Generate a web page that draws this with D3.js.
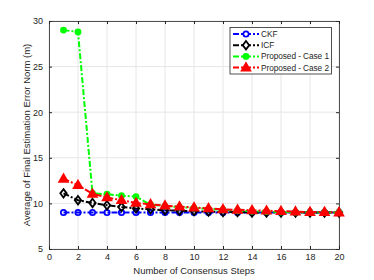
<!DOCTYPE html>
<html>
<head>
<meta charset="utf-8">
<script src="https://cdn.jsdelivr.net/npm/d3@7"></script>
<style>
body { margin: 0; background: #fff; }
text { font-family: "Liberation Sans", Arial, sans-serif; }
</style>
</head>
<body>
<div id="chart"></div>
<script>
var steps = d3.range(1, 21);
var ckf = [9.0, 9.0, 9.0, 9.0, 9.0, 9.0, 9.0, 9.0, 9.0, 9.0, 9.0, 9.0, 9.0, 9.0, 9.0, 9.0, 9.0, 9.0, 9.0, 9.0];
var icf = [11.1, 10.35, 10.05, 9.8, 9.6, 9.45, 9.35, 9.25, 9.2, 9.15, 9.1, 9.05, 9.05, 9.0, 9.0, 9.0, 9.0, 9.0, 9.0, 9.0];
var case1 = [29.0, 28.8, 11.1, 11.0, 10.85, 10.75, 9.85, 9.7, 9.6, 9.5, 9.4, 9.3, 9.2, 9.15, 9.1, 9.05, 9.05, 9.0, 9.0, 9.0];
var case2 = [12.7, 12.0, 11.05, 10.65, 10.35, 10.05, 9.9, 9.75, 9.65, 9.55, 9.45, 9.35, 9.3, 9.25, 9.2, 9.15, 9.1, 9.05, 9.05, 9.0];
var xTicks = d3.range(0, 21, 2);
var yTicks = [5, 10, 15, 20, 25, 30];

var series = [
  {name: "CKF", values: ckf, color: "#0000ff", marker: "circle", fill: "none"},
  {name: "ICF", values: icf, color: "#000000", marker: "diamond", fill: "none"},
  {name: "Proposed - Case 1", values: case1, color: "#00ff00", marker: "dot", fill: "#00ff00"},
  {name: "Proposed - Case 2", values: case2, color: "#ff0000", marker: "triangle", fill: "#ff0000"}
];

var width = 374, height = 280;
var margin = {top: 21, right: 35, bottom: 31, left: 49};

var svg = d3.select("#chart").append("svg")
    .attr("width", width)
    .attr("height", height);

var x = d3.scaleLinear().domain([0, 20]).range([margin.left, width - margin.right]);
var y = d3.scaleLinear().domain([5, 30]).range([height - margin.bottom, margin.top]);

// grid
svg.append("g").selectAll("line").data(xTicks).enter().append("line")
    .attr("x1", d => x(d)).attr("x2", d => x(d))
    .attr("y1", y(5)).attr("y2", y(30))
    .style("stroke", "#e6e6e6").style("stroke-width", 1);
svg.append("g").selectAll("line").data(yTicks).enter().append("line")
    .attr("x1", x(0)).attr("x2", x(20))
    .attr("y1", d => y(d)).attr("y2", d => y(d))
    .style("stroke", "#e6e6e6").style("stroke-width", 1);

// axes
var xAxis = svg.append("g")
    .attr("transform", "translate(0," + y(5) + ")")
    .call(d3.axisBottom(x).tickValues(xTicks).tickSize(-3).tickPadding(5));
var xAxisTop = svg.append("g")
    .attr("transform", "translate(0," + y(30) + ")")
    .call(d3.axisTop(x).tickValues(xTicks).tickSize(-3).tickFormat(""));
var yAxis = svg.append("g")
    .attr("transform", "translate(" + x(0) + ",0)")
    .call(d3.axisLeft(y).tickValues(yTicks).tickSize(-3).tickPadding(6));
var yAxisRight = svg.append("g")
    .attr("transform", "translate(" + x(20) + ",0)")
    .call(d3.axisRight(y).tickValues(yTicks).tickSize(-3).tickFormat(""));

[xAxis, xAxisTop, yAxis, yAxisRight].forEach(function(a) {
  a.select(".domain").style("stroke", "#262626").style("stroke-width", 0.8);
  a.selectAll(".tick line").style("stroke", "#262626");
  a.selectAll("text").style("font-size", "9px").style("fill", "#262626")
    .style("font-family", "Liberation Sans, Arial, sans-serif");
});

svg.append("text")
    .attr("x", (x(0) + x(20)) / 2).attr("y", 274)
    .attr("text-anchor", "middle")
    .style("font-size", "9.5px").style("fill", "#262626")
    .text("Number of Consensus Steps");

svg.append("text")
    .attr("transform", "translate(30," + (y(5) + y(30)) / 2 + ") rotate(-90)")
    .attr("text-anchor", "middle")
    .style("font-size", "9.5px").style("fill", "#262626")
    .text("Average of Final Estimation Error Norm (m)");

function markerPath(type) {
  if (type === "circle") return d3.symbol().type(d3.symbolCircle).size(22)();
  if (type === "dot") return d3.symbol().type(d3.symbolCircle).size(20)();
  if (type === "diamond") return "M0,-4.2L3.2,0L0,4.2L-3.2,0Z";
  return "M0,-4.5L4.3,3L-4.3,3Z";
}

var line = d3.line().x((d, i) => x(steps[i])).y(d => y(d));

var plot = svg.append("g");
series.forEach(function(s) {
  var g = plot.append("g");
  g.append("path")
      .datum(s.values)
      .attr("d", line)
      .style("fill", "none")
      .style("stroke", s.color)
      .style("stroke-width", 2)
      .style("stroke-dasharray", "6,2,2,2");
  g.selectAll("path.m").data(s.values).enter().append("path")
      .attr("class", "m")
      .attr("transform", (d, i) => "translate(" + x(steps[i]) + "," + y(d) + ")")
      .attr("d", markerPath(s.marker))
      .style("fill", s.fill === "none" ? "#fff" : s.fill)
      .style("fill-opacity", s.fill === "none" ? 0 : 1)
      .style("stroke", s.color)
      .style("stroke-width", 1.8);
});

// legend
var lg = svg.append("g");
lg.append("rect")
    .attr("x", 230).attr("y", 27.5).attr("width", 101.5).attr("height", 46.5)
    .style("fill", "#fff").style("stroke", "#262626").style("stroke-width", 0.8);
series.forEach(function(s, i) {
  var yy = 34 + i * 11.2;
  lg.append("line")
      .attr("x1", 233).attr("x2", 259).attr("y1", yy).attr("y2", yy)
      .style("stroke", s.color).style("stroke-width", 2)
      .style("stroke-dasharray", "6,2,2,2");
  lg.append("path")
      .attr("transform", "translate(246," + yy + ")")
      .attr("d", markerPath(s.marker))
      .style("fill", s.fill === "none" ? "#fff" : s.fill)
      .style("stroke", s.color).style("stroke-width", 1.8);
  lg.append("text")
      .attr("x", 261).attr("y", yy + 3)
      .style("font-size", "8.3px").style("fill", "#262626")
      .attr("textLength", i >= 2 ? 68 : null)
      .text(s.name);
});
</script>
</body>
</html>
